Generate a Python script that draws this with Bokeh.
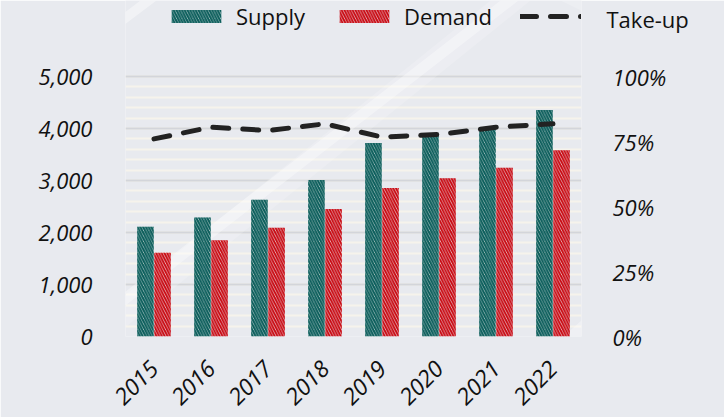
from math import pi
from bokeh.plotting import figure
from bokeh.models import (ColumnDataSource, FactorRange, Range1d, LinearAxis, FixedTicker,
                          NumeralTickFormatter, Legend, LegendItem, PolyAnnotation, Label)
from bokeh.transform import dodge
from bokeh.embed import file_html
from bokeh.resources import INLINE

years = ["2015", "2016", "2017", "2018", "2019", "2020", "2021", "2022"]
supply = [2110, 2290, 2630, 3010, 3720, 3900, 4030, 4355]
demand = [1610, 1850, 2090, 2450, 2855, 3045, 3245, 3580]
take_up = [0.760, 0.805, 0.792, 0.818, 0.767, 0.777, 0.805, 0.818]
left_ticks = [0, 1000, 2000, 3000, 4000, 5000]
right_ticks = [0, 0.25, 0.5, 0.75, 1.0]
series_names = ["Supply", "Demand", "Take-up"]

TEAL = "#0b5e5b"
RED = "#c90710"
BG = "#e8eaef"
INK = "#111111"
FONT = "Open Sans"

# plotting frame spans y 0..336 so the legend row can live inside it;
# the value axis top (5000 / 100%) sits 260 px above the baseline
FRAME_H = 336
TOP_FRAC = FRAME_H / 260.0

src = ColumnDataSource(dict(year=years, supply=supply, demand=demand, take_up=take_up))

p = figure(x_range=FactorRange(factors=years, range_padding=0),
           y_range=Range1d(0, 5000 * TOP_FRAC),
           frame_width=456, frame_height=FRAME_H,
           min_border_left=125, min_border_right=143, min_border_top=0, min_border_bottom=81,
           output_backend="svg", toolbar_location=None)
p.extra_y_ranges = {"pct": Range1d(0, 1.0 * TOP_FRAC)}
p.background_fill_color = BG
p.border_fill_color = BG
p.outline_line_color = None

# light diagonal streaks (canvas pixels)
streaks = [
    ([0, 490, 530, 40], [395, 0, 0, 395], 0.18),
    ([0, 500, 518, 18], [388, 0, 0, 388], 0.35),
    ([0, 140, 156, 0], [105, 0, 0, 118], 0.4),
    ([470, 724, 724, 520], [417, 195, 235, 417], 0.3),
    ([560, 724, 724], [0, 0, 80], 0.2),
]
for xs, ys, a in streaks:
    p.add_layout(PolyAnnotation(xs=xs, ys=ys, xs_units="canvas", ys_units="canvas",
                                fill_color="white", fill_alpha=a, line_color=None,
                                level="underlay"))

p.yaxis.ticker = FixedTicker(ticks=left_ticks, minor_ticks=list(range(0, 5001, 200)))
p.yaxis.formatter = NumeralTickFormatter(format="0,0")
right = LinearAxis(y_range_name="pct", ticker=FixedTicker(ticks=right_ticks),
                   formatter=NumeralTickFormatter(format="0%"))
p.add_layout(right, "right")

for ax in [p.yaxis[0], right, p.xaxis[0]]:
    ax.axis_line_color = None
    ax.major_tick_line_color = None
    ax.minor_tick_line_color = None
    ax.major_label_text_font = FONT
    ax.major_label_text_font_style = "italic"
    ax.major_label_text_font_size = "22px"
    ax.major_label_text_color = INK
p.yaxis[0].major_label_standoff = 27
right.major_label_standoff = 25
p.xaxis.major_label_orientation = pi / 4
p.xaxis.major_label_text_font_size = "23px"
p.xaxis.major_label_standoff = 22

p.xgrid.grid_line_color = None
p.ygrid.grid_line_color = "#d3d5da"
p.ygrid.grid_line_width = 2
p.ygrid.minor_grid_line_color = "#f6f3ec"
p.ygrid.minor_grid_line_width = 2

bar_style = dict(line_color=None, hatch_pattern="left_diagonal_line", hatch_scale=5.5)
r_sup = p.vbar(x=dodge("year", -0.15, range=p.x_range), top="supply", width=0.29, source=src,
               fill_color=TEAL, fill_alpha=0.25, hatch_color=TEAL, hatch_weight=2.0, **bar_style)
r_dem = p.vbar(x=dodge("year", 0.15, range=p.x_range), top="demand", width=0.29, source=src,
               fill_color=RED, fill_alpha=0.22, hatch_color=RED, hatch_weight=1.8, **bar_style)
r_line = p.line(x="year", y="take_up", source=src, y_range_name="pct",
                line_color="#222222", line_width=5, line_dash="16 14", line_cap="round")

legend = Legend(items=[LegendItem(label=series_names[0], renderers=[r_sup]),
                       LegendItem(label=series_names[1], renderers=[r_dem]),
                       LegendItem(label=" ", renderers=[r_line])],
                orientation="horizontal", location=(40, FRAME_H - 31),
                background_fill_alpha=0, border_line_color=None,
                glyph_width=62, glyph_height=16, label_standoff=9, spacing=28,
                padding=0, margin=0,
                label_text_font=FONT, label_text_font_size="22px", label_text_color=INK)
p.add_layout(legend, "center")

# the third legend label sits to the right of the plotting frame
p.add_layout(Label(x=606, y=18, x_units="canvas", y_units="canvas", text=series_names[2],
                   text_font=FONT, text_font_size="22px", text_color=INK,
                   text_baseline="middle", text_align="left"), "right")

open("out.html", "w").write(file_html(p, INLINE))
